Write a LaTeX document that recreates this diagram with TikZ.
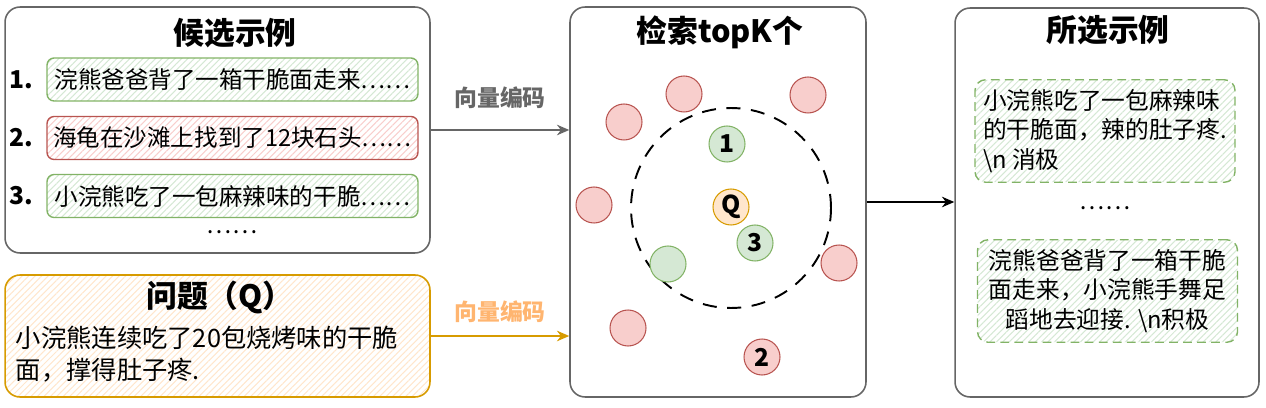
\documentclass[tikz,border=0pt]{standalone}
\usepackage{fontspec}
\setmainfont{Noto Sans CJK SC}
\usetikzlibrary{arrows.meta,positioning,patterns.meta}

\definecolor{boxgray}{HTML}{666666}
\definecolor{okline}{HTML}{82B366}
\definecolor{okfill}{HTML}{D5E8D4}
\definecolor{badline}{HTML}{B85450}
\definecolor{badfill}{HTML}{F8CECC}
\definecolor{qline}{HTML}{D79B00}
\definecolor{qfill}{HTML}{FFE6CC}
\definecolor{qlabel}{HTML}{FFB570}

\tikzset{
  panel/.style={draw=boxgray, line width=0.9pt, rounded corners=0.3cm},
  hatched/.style={pattern={Lines[angle=45,distance=2.6pt,line width=0.6pt]},
    pattern color=#1},
  title/.style={font=\bfseries\fontsize{17.5}{20}\selectfont},
  body/.style={font=\fontsize{13.5}{17}\selectfont, inner sep=2pt},
  itembox/.style={draw=#1line, hatched=#1fill, line width=0.8pt,
    rounded corners=4pt, minimum width=7.42cm, minimum height=0.86cm,
    font=\fontsize{13.4}{15}\selectfont, inner sep=1pt},
  pickbox/.style={draw=okline, hatched=okfill, line width=0.8pt,
    dash pattern=on 5pt off 3pt, rounded corners=6pt,
    minimum width=5.2cm, minimum height=2.05cm, body},
  numlabel/.style={font=\bfseries\fontsize{14}{14}\selectfont, inner sep=0pt},
  arrowlabel/.style={font=\bfseries\fontsize{13}{13}\selectfont, text=#1},
  dot/.style={circle, draw=#1line, fill=#1fill, line width=0.6pt,
    minimum size=0.72cm, inner sep=0pt,
    font=\bfseries\fontsize{14}{14}\selectfont},
  ring/.style={circle, draw, line width=1.1pt, dash pattern=on 8pt off 6pt,
    minimum size=4cm, inner sep=0pt}
}

\begin{document}
\begin{tikzpicture}[x=0.02cm, y=-0.02cm, >={Stealth[length=7pt,width=6pt]}]
  \useasboundingbox (0,0) rectangle (1266,408);

  % Panel 1: candidate examples
  \node[panel, minimum width=8.5cm, minimum height=4.92cm] (cand) at (217.5,130) {};
  \node[title] (candtitle) at (235,33) {候选示例};
  \node[itembox=ok] (item1) at (232.5,79.5) {浣熊爸爸背了一箱干脆面走来……};
  \node[itembox=bad] (item2) at (232.5,138) {海龟在沙滩上找到了12块石头……};
  \node[itembox=ok] (item3) at (232.5,196) {小浣熊吃了一包麻辣味的干脆……};
  \foreach \i in {1,2,3}
    \node[numlabel, left=0.25cm of item\i] (num\i) {\i.};
  \node[body] (candmore) at (232,232) {……};

  % Panel 2: the question
  \node[panel, draw=qline, hatched=qfill, minimum width=8.5cm,
    minimum height=2.44cm] (quest) at (217.5,336) {};
  \node[title] (questtitle) at (220,297) {问题（Q）};
  \node[body, font=\fontsize{14.4}{18}\selectfont, anchor=west, align=left]
    (questtext) at (12,354) {小浣熊连续吃了20包烧烤味的干脆\\面，撑得肚子疼.};

  % Panel 3: top-k retrieval
  \node[panel, minimum width=5.92cm, minimum height=7.8cm] (search) at (718,202) {};
  \node[title] (searchtitle) at (720,32) {检索topK个};
  \node[ring] (ring) at (731,208) {};
  \foreach \x/\y [count=\i] in {684/94, 808/95, 624/122, 594/205, 839/263, 628/328}
    \node[dot=bad] (far\i) at (\x,\y) {};
  \node[dot=bad] (two) at (762,357) {2};
  \node[dot=ok] (one) at (727,144) {1};
  \node[dot=ok] (three) at (755,243) {3};
  \node[dot=ok] (near) at (668,264) {};
  \node[dot=q] (query) at (731,207) {Q};

  % Panel 4: chosen examples
  \node[panel, minimum width=6.08cm, minimum height=7.78cm] (chosen) at (1107,202.5) {};
  \node[title] (chosentitle) at (1108,30) {所选示例};
  \node[pickbox, align=left] (pick1) at (1105,131)
    {小浣熊吃了一包麻辣味\\的干脆面，辣的肚子疼.\\\textbackslash n 消极};
  \node[body] (pickmore) at (1105,208) {……};
  \node[pickbox, align=center] (pick2) at (1107.5,291)
    {浣熊爸爸背了一箱干脆\\面走来，小浣熊手舞足\\蹈地去迎接. \textbackslash n积极};

  % connectors
  \draw[->, line width=1pt, draw=boxgray] (cand.east) -- (search.west |- cand.east)
    node[midway, above=0.3cm, arrowlabel=boxgray] (enc1) {向量编码};
  \draw[->, line width=1pt, draw=qline] (quest.east) -- (search.west |- quest.east)
    node[midway, above=0.13cm, arrowlabel=qlabel] (enc2) {向量编码};
  \draw[->, line width=1pt] (search.east) -- (chosen.west |- search.east);

\end{tikzpicture}
\end{document}
